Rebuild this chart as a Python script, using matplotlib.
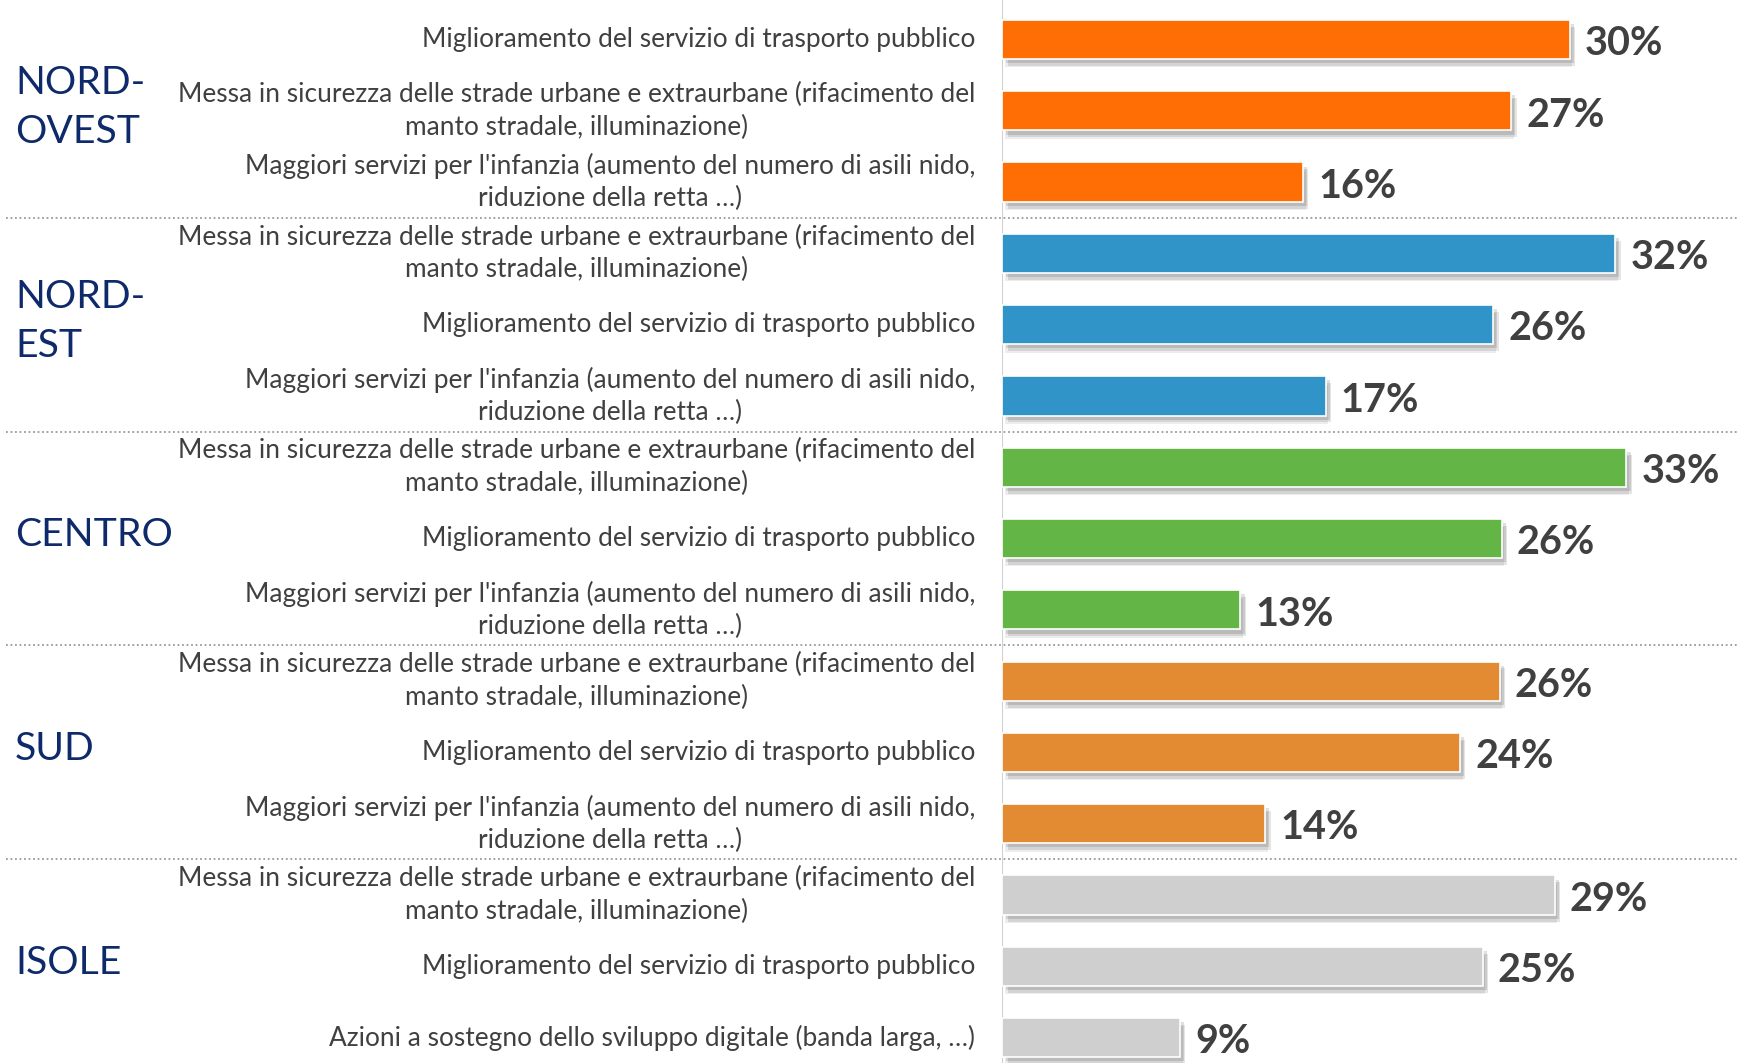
import matplotlib
matplotlib.use("Agg")
import matplotlib.pyplot as plt
import matplotlib.patheffects as pe
from matplotlib import transforms
from matplotlib.lines import Line2D

# ---- data ----
regions = ["NORD-\nOVEST", "NORD-\nEST", "CENTRO", "SUD", "ISOLE"]
region_colors = ["#FF6E05", "#3094C9", "#63B545", "#E28B33", "#D0CFCF"]

T = "Miglioramento del servizio di trasporto pubblico"
S = "Messa in sicurezza delle strade urbane e extraurbane (rifacimento del\nmanto stradale, illuminazione)"
I = "Maggiori servizi per l'infanzia (aumento del numero di asili nido,\nriduzione della retta …)"
D = "Azioni a sostegno dello sviluppo digitale (banda larga, …)"

nord_ovest_labels = [T, S, I]
nord_ovest_values = [30.0, 26.9, 15.9]
nord_est_labels = [S, T, I]
nord_est_values = [32.4, 25.95, 17.1]
centro_labels = [S, T, I]
centro_values = [33.0, 26.4, 12.6]
sud_labels = [S, T, I]
sud_values = [26.3, 24.2, 13.9]
isole_labels = [S, T, D]
isole_values = [29.2, 25.4, 9.4]

group_labels = [nord_ovest_labels, nord_est_labels, centro_labels, sud_labels, isole_labels]
group_values = [nord_ovest_values, nord_est_values, centro_values, sud_values, isole_values]

# ---- figure ----
W, H = 1740, 1063
fig = plt.figure(figsize=(W / 100, H / 100), dpi=100)
fig.patch.set_facecolor("white")
ax = fig.add_axes([1002 / W, 0, 1 - 1002 / W, 1])
ax.set_xlim(0, 39)
ax.set_ylim(14.356, -0.553)
ax.axis("off")

text_color = "#404040"
navy = "#0E2A6A"
font = "Lato"

trans = transforms.blended_transform_factory(fig.transFigure, ax.transData)

shadow = [
    pe.SimplePatchShadow(offset=(2, -6), shadow_rgbFace="#000000", alpha=0.07),
    pe.SimplePatchShadow(offset=(4, -5), shadow_rgbFace="#000000", alpha=0.10),
    pe.SimplePatchShadow(offset=(3, -3), shadow_rgbFace="#000000", alpha=0.12),
    pe.Normal(),
]

idx = 0
for g, (labels, vals) in enumerate(zip(group_labels, group_values)):
    color = region_colors[g]
    ys = list(range(idx, idx + len(vals)))
    bars = ax.barh(ys, vals, height=0.55, color=color, edgecolor="white", linewidth=1.2, zorder=3)
    for b in bars:
        b.set_path_effects(shadow)
    for y, v, lab in zip(ys, vals, labels):
        ax.text(v + 0.8, y + 0.06, f"{round(v)}%", ha="left", va="center", fontsize=28.5,
                fontweight="bold", color=text_color, family=font, zorder=4)
        ax.text(975 / W, y, lab, transform=trans, ha="right", va="center",
                multialignment="center", fontsize=18.9, color=text_color, family=font,
                linespacing=1.37)
    ax.text(15 / W, idx + 0.95, regions[g], transform=trans, ha="left", va="center",
            fontsize=28.2, color=navy, family=font, linespacing=1.45)
    if g < len(regions) - 1:
        ysep = idx + len(vals) - 0.5
        ax.add_line(Line2D([6 / W, 1], [ysep, ysep], transform=trans, color="#9a9a9a",
                           linestyle=(0, (1, 1.5)), linewidth=1.3, clip_on=False, zorder=1))
    idx += len(vals)

# vertical axis line
ax.add_line(Line2D([1002 / W, 1002 / W], [0, 1], transform=fig.transFigure,
                   color="#d0d0d0", linewidth=1.5, zorder=2))

fig.savefig("out.png", dpi=100, facecolor="white")
